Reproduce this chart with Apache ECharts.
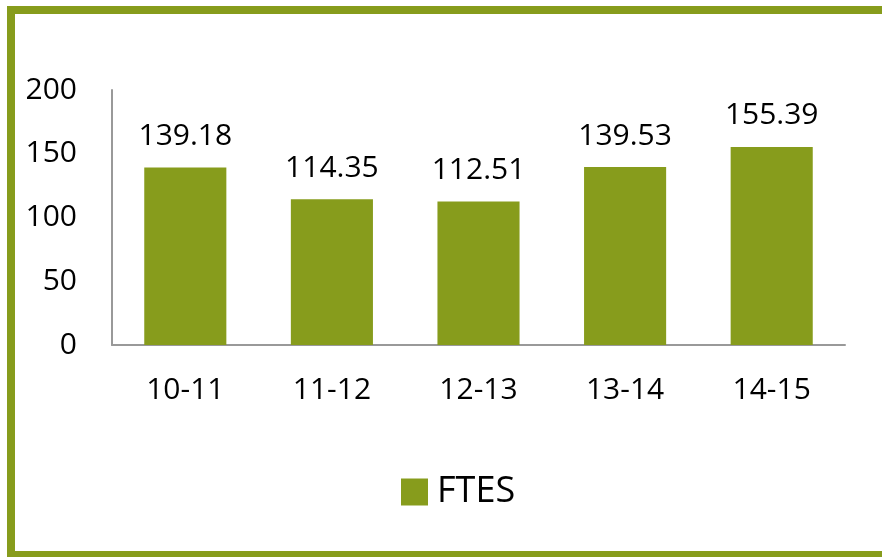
<!DOCTYPE html>
<html>
<head>
<meta charset="utf-8">
<script src="https://cdn.jsdelivr.net/npm/echarts@6/dist/echarts.min.js"></script>
<style>
  html, body { margin: 0; padding: 0; background: #fff; }
  #chart { width: 882px; height: 557px; }
</style>
</head>
<body>
<div id="chart"></div>
<script>
var categories = ['10-11', '11-12', '12-13', '13-14', '14-15'];
var ftesValues = [139.18, 114.35, 112.51, 139.53, 155.39];
var seriesName = 'FTES';

var green = '#879c1c';
var font = 'Open Sans';

var myChart = echarts.init(document.getElementById('chart'));

var option = {
	backgroundColor: '#fff',
	animation: false,
	graphic: [{
		type: 'rect',
		shape: { x: 11, y: 10, width: 900, height: 545 },
		style: { fill: 'none', stroke: green, lineWidth: 8 }
	}],
	legend: {
		data: [seriesName],
		left: 396,
		top: 469,
		itemWidth: 27,
		itemHeight: 27,
		itemGap: 10,
		icon: 'rect',
		textStyle: { fontFamily: font, fontSize: 36, color: '#000', padding: [0, 0, 0, 4] }
	},
	grid: {
		left: 112,
		right: 37,
		top: 90,
		bottom: 212
	},
	xAxis: {
		type: 'category',
		data: categories,
		axisLine: { lineStyle: { color: '#999', width: 2 } },
		axisTick: { show: false },
		axisLabel: { fontFamily: font, fontSize: 30, color: '#000', margin: 30 }
	},
	yAxis: {
		type: 'value',
		min: 0,
		max: 200,
		interval: 50,
		axisLine: { show: true, lineStyle: { color: '#999', width: 2 } },
		axisTick: { show: false },
		splitLine: { show: false },
		axisLabel: { fontFamily: font, fontSize: 30, color: '#000', margin: 35 }
	},
	series: [{
		name: seriesName,
		type: 'bar',
		data: ftesValues,
		barCategoryGap: '44%',
		itemStyle: { color: green },
		label: {
			show: true,
			position: 'top',
			distance: 16,
			fontFamily: font,
			fontSize: 30,
			color: '#000'
		}
	}]
};

myChart.setOption(option);
</script>
</body>
</html>
